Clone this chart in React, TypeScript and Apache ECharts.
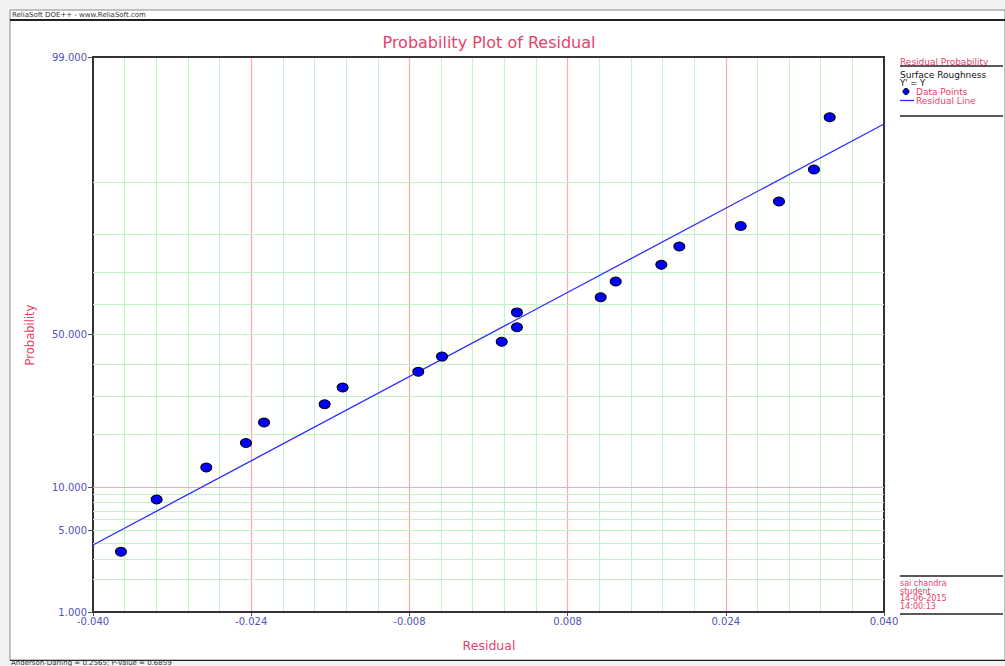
import React, { useEffect, useRef } from 'react';
import * as echarts from 'echarts';

// ---- data ----
const residuals = [
  -0.03717, -0.03356, -0.02854, -0.02453, -0.0227, -0.01657, -0.01475, -0.0071, -0.0047, 0.00134,
  0.00288, 0.00288, 0.01135, 0.01287, 0.01748, 0.0193, 0.02551, 0.02938, 0.03292, 0.03451,
];
// median-rank probabilities (%)
const probabilities = [
  3.43, 8.33, 13.24, 18.14, 23.04, 27.94, 32.84, 37.75, 42.65, 47.55,
  52.45, 57.35, 62.25, 67.16, 72.06, 76.96, 81.86, 86.76, 91.67, 96.57,
];
// fitted residual line (normal distribution parameters)
const fitMean = 0;
const fitSigma = 0.02267;

const xMin = -0.04;
const xMax = 0.04;
const xInterval = 0.016;
const yMinProb = 1;
const yMaxProb = 99;
const yTickLabels = [1, 5, 10, 50, 99];
const yGridMinor = [2, 3, 4, 5, 6, 7, 8, 9, 20, 30, 40, 50, 60, 70, 80, 90];
const yGridMajor = [10];

const titleText = 'Probability Plot of Residual';
const xName = 'Residual';
const yName = 'Probability';
const headerText = 'ReliaSoft DOE++ - www.ReliaSoft.com';
const legendTitle = 'Residual Probability';
const legendSub = ['Surface Roughness', "Y' = Y"];
const legendItems = ['Data Points', 'Residual Line'];
const userInfo = ['sai chandra', 'student', '14-06-2015', '14:00:13'];
const statText = 'Anderson-Darling = 0.2565; P-Value = 0.6859';

// inverse standard normal CDF (Acklam)
function normInv(p: number): number {
  const a = [-3.969683028665376e1, 2.209460984245205e2, -2.759285104469687e2, 1.38357751867269e2, -3.066479806614716e1, 2.506628277459239];
  const b = [-5.447609879822406e1, 1.615858368580409e2, -1.556989798598866e2, 6.680131188771972e1, -1.328068155288572e1];
  const c = [-7.784894002430293e-3, -3.223964580411365e-1, -2.400758277161838, -2.549732539343734, 4.374664141464968, 2.938163982698783];
  const d = [7.784695709041462e-3, 3.224671290700398e-1, 2.445134137142996, 3.754408661907416];
  const plow = 0.02425;
  const phigh = 1 - plow;
  if (p < plow) {
    const q = Math.sqrt(-2 * Math.log(p));
    return (((((c[0] * q + c[1]) * q + c[2]) * q + c[3]) * q + c[4]) * q + c[5]) / ((((d[0] * q + d[1]) * q + d[2]) * q + d[3]) * q + 1);
  }
  if (p > phigh) {
    const q = Math.sqrt(-2 * Math.log(1 - p));
    return -(((((c[0] * q + c[1]) * q + c[2]) * q + c[3]) * q + c[4]) * q + c[5]) / ((((d[0] * q + d[1]) * q + d[2]) * q + d[3]) * q + 1);
  }
  const q = p - 0.5;
  const r = q * q;
  return ((((((a[0] * r + a[1]) * r + a[2]) * r + a[3]) * r + a[4]) * r + a[5]) * q) / (((((b[0] * r + b[1]) * r + b[2]) * r + b[3]) * r + b[4]) * r + 1);
}

const FONT = '"DejaVu Sans", Verdana, sans-serif';
const PINK = '#e8406a';
const LABEL_BLUE = '#5252b4';
const GREEN = '#c2f4c2';
const RED = '#ffa6a6';

function txt(text: string, x: number, y: number, size: number, fill: string, align = 'left', extra: any = {}) {
  return {
    type: 'text',
    x,
    y,
    silent: true,
    ...extra,
    style: {
      text,
      font: `${size}px ${FONT}`,
      fill,
      align,
      textAlign: align,
      verticalAlign: 'middle',
      textVerticalAlign: 'middle',
    },
  };
}

function hline(x1: number, x2: number, y: number, stroke: string, lineWidth: number) {
  return { type: 'line', silent: true, shape: { x1, y1: y, x2, y2: y }, style: { stroke, lineWidth } };
}

export default function App() {
  const ref = useRef<HTMLDivElement>(null);

  useEffect(() => {
    if (!ref.current) return;
    const chart = echarts.init(ref.current, null, { renderer: 'svg' });

    const zMin = normInv(yMinProb / 100);
    const zMax = normInv(yMaxProb / 100);
    const tickZ = yTickLabels.map((p) => normInv(p / 100));

    const gridLines = [
      ...yGridMinor.map((p) => ({ yAxis: normInv(p / 100), lineStyle: { color: GREEN, width: 1, type: 'solid' } })),
      ...yGridMajor.map((p) => ({ yAxis: normInv(p / 100), lineStyle: { color: RED, width: 1.2, type: 'solid' } })),
    ];

    const option: any = {
      animation: false,
      backgroundColor: '#f2f2f2',
      textStyle: { fontFamily: FONT },
      grid: {
        left: 93,
        top: 57,
        width: 791,
        height: 555,
        show: true,
        borderColor: '#333',
        borderWidth: 2,
        backgroundColor: 'transparent',
        z: 1,
      },
      xAxis: {
        type: 'value',
        min: xMin,
        max: xMax,
        interval: xInterval,
        axisLine: { onZero: false, lineStyle: { color: '#333', width: 2 } },
        axisTick: { show: true, length: 4, lineStyle: { color: '#555' } },
        axisLabel: {
          color: LABEL_BLUE,
          fontSize: 10,
          fontFamily: FONT,
          margin: 4,
          showMinLabel: true,
          showMaxLabel: true,
          formatter: (v: number) => v.toFixed(3),
        },
        splitLine: { show: true, lineStyle: { color: RED, width: 1.2 } },
        minorTick: { show: false, splitNumber: 5 },
        minorSplitLine: { show: true, lineStyle: { color: GREEN, width: 1 } },
      },
      yAxis: {
        type: 'value',
        min: zMin,
        max: zMax,
        axisLine: { onZero: false, lineStyle: { color: '#333', width: 2 } },
        axisTick: { show: true, length: 5, customValues: tickZ, lineStyle: { color: '#555' } },
        axisLabel: {
          customValues: tickZ,
          color: LABEL_BLUE,
          fontSize: 10,
          fontFamily: FONT,
          margin: 6,
          showMinLabel: true,
          showMaxLabel: true,
          formatter: (v: number) => {
            let best = yTickLabels[0];
            for (const p of yTickLabels) {
              if (Math.abs(normInv(p / 100) - v) < Math.abs(normInv(best / 100) - v)) best = p;
            }
            return best.toFixed(3);
          },
        },
        splitLine: { show: false },
      },
      series: [
        {
          type: 'line',
          name: 'Residual Line',
          data: [
            [xMin, (xMin - fitMean) / fitSigma],
            [xMax, (xMax - fitMean) / fitSigma],
          ],
          symbol: 'none',
          silent: true,
          lineStyle: { color: '#2b2bff', width: 1.3 },
          z: 3,
          markLine: {
            silent: true,
            symbol: 'none',
            z: 1,
            animation: false,
            label: { show: false },
            data: gridLines,
          },
        },
        {
          type: 'scatter',
          name: 'Data Points',
          data: residuals.map((r, i) => [r, normInv(probabilities[i] / 100)]),
          symbol: 'circle',
          symbolSize: [11, 9],
          itemStyle: { color: '#0000ff', borderColor: '#000', borderWidth: 1, opacity: 1 },
          z: 4,
        },
      ],
      graphic: [
        {
          type: 'rect',
          z: -10,
          silent: true,
          shape: { x: 10, y: 10, width: 995, height: 650 },
          style: { fill: '#ffffff', stroke: '#888', lineWidth: 1 },
        },
        { ...hline(10, 1005, 20, '#222', 2), z: 5 },
        { ...txt(headerText, 12, 15, 7, '#333'), z: 5 },
        { ...txt(titleText, 489, 42, 16, PINK, 'center'), z: 5 },
        { ...txt(xName, 489, 645, 12.5, PINK, 'center'), z: 5 },
        { ...txt(yName, 30, 335, 11.5, PINK, 'center', { rotation: Math.PI / 2 }), z: 5 },
        // legend panel
        { ...txt(legendTitle, 900, 61.5, 9, PINK), z: 5 },
        { ...hline(900, 1003, 66, '#222', 1.5), z: 5 },
        { ...txt(legendSub[0], 900, 74.5, 9, '#111'), z: 5 },
        { ...txt(legendSub[1], 900, 83, 8.5, '#111'), z: 5 },
        {
          type: 'circle',
          z: 5,
          silent: true,
          shape: { cx: 906, cy: 91.5, r: 3 },
          style: { fill: '#0000ff', stroke: '#000', lineWidth: 1 },
        },
        { ...txt(legendItems[0], 916, 92, 9, PINK), z: 5 },
        { ...hline(900, 914, 100.5, '#2b2bff', 1.3), z: 5 },
        { ...txt(legendItems[1], 916, 100.5, 9, PINK), z: 5 },
        { ...hline(900, 1003, 116, '#222', 1.5), z: 5 },
        // user info
        { ...hline(900, 1003, 576, '#222', 1.5), z: 5 },
        ...userInfo.map((s, i) => ({ ...txt(s, 900, 583.5 + i * 7.6, 8, PINK), z: 5 })),
        { ...hline(900, 1003, 614, '#222', 1.5), z: 5 },
        // bottom statistic
        { ...hline(10, 1005, 660.5, '#222', 1), z: 5 },
        { ...txt(statText, 11, 662.5, 7, '#333'), z: 5 },
      ],
    };

    chart.setOption(option);
    return () => {
      chart.dispose();
    };
  }, []);

  return <div ref={ref} style={{ position: 'absolute', left: 0, top: 0, width: 1005, height: 666 }} />;
}
